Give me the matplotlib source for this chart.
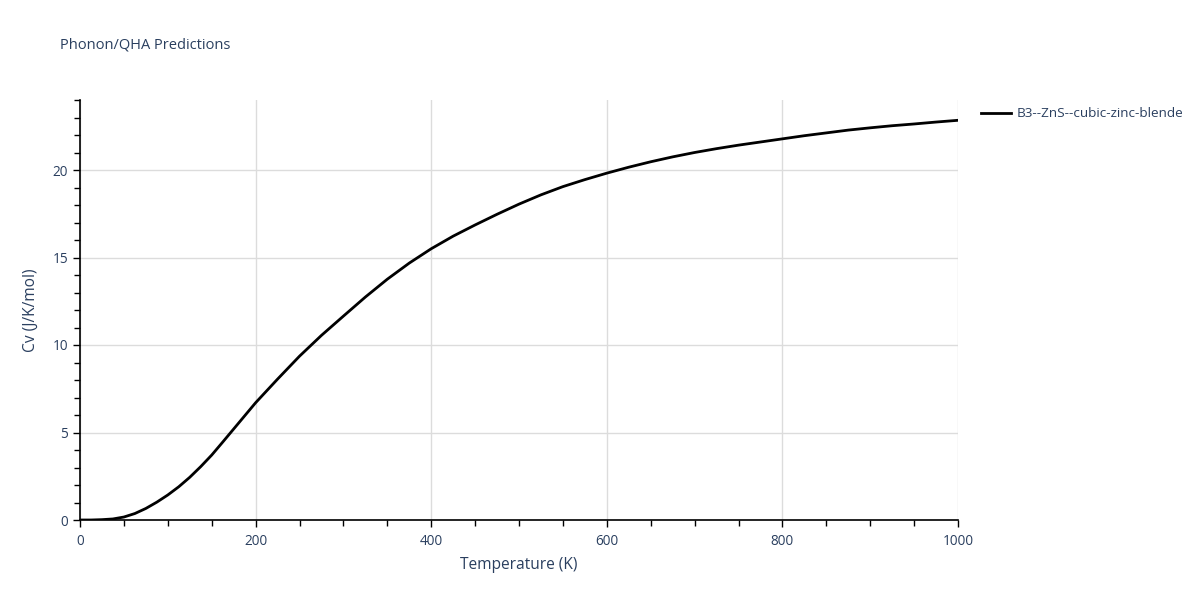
import matplotlib.pyplot as plt
from matplotlib.ticker import MultipleLocator
from matplotlib.lines import Line2D

temperature = [0, 12.5, 25, 37.5, 50, 62.5, 75, 87.5, 100, 112.5, 125, 137.5, 150, 162.5,
               175, 187.5, 200, 225, 250, 275, 300, 325, 350, 375, 400, 425, 450,
               475, 500, 525, 550, 575, 600, 625, 650, 675, 700, 725, 750, 775,
               800, 825, 850, 875, 900, 925, 950, 975, 1000]
cv = [0.0, 0.0, 0.02, 0.06, 0.17, 0.37, 0.66, 1.02, 1.43, 1.9, 2.44, 3.05, 3.71, 4.45,
      5.2, 5.95, 6.7, 8.05, 9.36, 10.55, 11.65, 12.74, 13.76, 14.68, 15.5, 16.22, 16.86,
      17.47, 18.05, 18.58, 19.05, 19.45, 19.82, 20.16, 20.47, 20.75, 21.0, 21.22, 21.42, 21.6,
      21.78, 21.96, 22.12, 22.28, 22.41, 22.53, 22.63, 22.74, 22.84]
series_name = "B3--ZnS--cubic-zinc-blende"

text_col = "#2a3f5f"
plt.rcParams['font.family'] = ['Open Sans', 'DejaVu Sans']

fig = plt.figure(figsize=(12, 6), dpi=100)
ax = fig.add_axes([80/1200, 80/600, 878/1200, 420/600])

ax.plot(temperature, cv, color="black", lw=2)

ax.set_xlim(0, 1000)
ax.set_ylim(0, 24)
ax.xaxis.set_major_locator(MultipleLocator(200))
ax.xaxis.set_minor_locator(MultipleLocator(50))
ax.yaxis.set_major_locator(MultipleLocator(5))
ax.yaxis.set_minor_locator(MultipleLocator(1))
ax.grid(True, which='major', color="#dcdcdc", lw=1)
ax.set_axisbelow(True)

for s in ['top', 'right']:
    ax.spines[s].set_visible(False)
for s in ['left', 'bottom']:
    ax.spines[s].set_color('black')
    ax.spines[s].set_linewidth(1.2)

ax.tick_params(which='both', direction='out', color='black', labelcolor=text_col,
               labelsize=9.8)
ax.tick_params(which='major', length=5, width=1)
ax.tick_params(which='minor', length=4, width=1)
ax.tick_params(axis='x', pad=5)

ax.set_xlabel("Temperature (K)", color=text_col, fontsize=11.2, labelpad=6)
ax.set_ylabel("Cv (J/K/mol)", color=text_col, fontsize=11.2, labelpad=10)

fig.text(60/1200, 1 - 45/600, "Phonon/QHA Predictions", color=text_col,
         fontsize=10.5, va='center', ha='left')

# legend outside right
handle = Line2D([], [], color='black', lw=2)
fig.legend([handle], [series_name], loc='center left',
           bbox_to_anchor=(969/1200, 1 - 114/600), frameon=False,
           handlelength=2.2, handletextpad=0.4, fontsize=9.7,
           labelcolor=text_col)

fig.savefig("out.png", dpi=100)
